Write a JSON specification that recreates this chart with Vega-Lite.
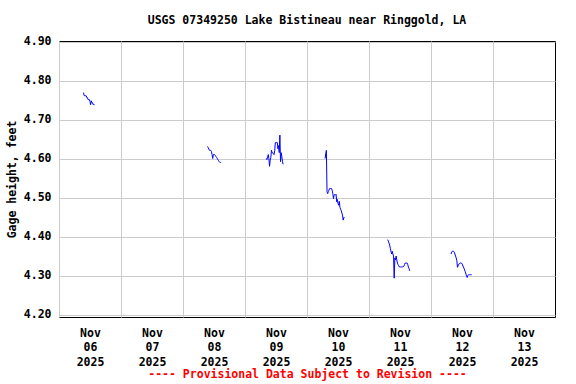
{
  "$schema": "https://vega.github.io/schema/vega-lite/v6.json",
  "width": 496,
  "height": 276,
  "autosize": "none",
  "padding": {"left": 59, "top": 41, "right": 21, "bottom": 67},
  "background": "white",
  "title": {
    "text": "USGS 07349250 Lake Bistineau near Ringgold, LA",
    "font": "DejaVu Sans Mono",
    "fontSize": 11.5,
    "fontWeight": "bold",
    "color": "black",
    "anchor": "middle",
    "offset": 9
  },
  "config": {
    "view": {"stroke": "black", "strokeWidth": 1},
    "axis": {
      "labelFont": "DejaVu Sans Mono",
      "labelFontSize": 11.5,
      "labelFontWeight": "bold",
      "labelColor": "black",
      "titleFont": "DejaVu Sans Mono",
      "titleFontSize": 11.5,
      "titleFontWeight": "bold",
      "titleColor": "black",
      "gridColor": "#cccccc",
      "gridOpacity": 1,
      "gridWidth": 1
    }
  },
  "data": {
    "values": [
      {"t": "2025-11-06T09:30", "v": 4.769, "s": "a"},
      {"t": "2025-11-06T09:45", "v": 4.761, "s": "a"},
      {"t": "2025-11-06T10:00", "v": 4.761, "s": "a"},
      {"t": "2025-11-06T10:15", "v": 4.761, "s": "a"},
      {"t": "2025-11-06T10:30", "v": 4.761, "s": "a"},
      {"t": "2025-11-06T10:45", "v": 4.756, "s": "a"},
      {"t": "2025-11-06T11:00", "v": 4.756, "s": "a"},
      {"t": "2025-11-06T11:15", "v": 4.751, "s": "a"},
      {"t": "2025-11-06T11:30", "v": 4.751, "s": "a"},
      {"t": "2025-11-06T11:45", "v": 4.751, "s": "a"},
      {"t": "2025-11-06T12:00", "v": 4.746, "s": "a"},
      {"t": "2025-11-06T12:15", "v": 4.738, "s": "a"},
      {"t": "2025-11-06T12:30", "v": 4.748, "s": "a"},
      {"t": "2025-11-06T12:45", "v": 4.743, "s": "a"},
      {"t": "2025-11-06T13:00", "v": 4.743, "s": "a"},
      {"t": "2025-11-06T13:15", "v": 4.738, "s": "a"},
      {"t": "2025-11-06T13:30", "v": 4.738, "s": "a"},
      {"t": "2025-11-06T13:45", "v": 4.738, "s": "a"},

      {"t": "2025-11-08T09:30", "v": 4.631, "s": "b"},
      {"t": "2025-11-08T09:45", "v": 4.628, "s": "b"},
      {"t": "2025-11-08T10:00", "v": 4.624, "s": "b"},
      {"t": "2025-11-08T10:15", "v": 4.621, "s": "b"},
      {"t": "2025-11-08T10:30", "v": 4.621, "s": "b"},
      {"t": "2025-11-08T10:45", "v": 4.621, "s": "b"},
      {"t": "2025-11-08T11:00", "v": 4.618, "s": "b"},
      {"t": "2025-11-08T11:15", "v": 4.610, "s": "b"},
      {"t": "2025-11-08T11:30", "v": 4.600, "s": "b"},
      {"t": "2025-11-08T11:45", "v": 4.610, "s": "b"},
      {"t": "2025-11-08T12:00", "v": 4.610, "s": "b"},
      {"t": "2025-11-08T12:15", "v": 4.610, "s": "b"},
      {"t": "2025-11-08T12:30", "v": 4.608, "s": "b"},
      {"t": "2025-11-08T12:45", "v": 4.605, "s": "b"},
      {"t": "2025-11-08T13:00", "v": 4.603, "s": "b"},
      {"t": "2025-11-08T13:15", "v": 4.600, "s": "b"},
      {"t": "2025-11-08T13:30", "v": 4.597, "s": "b"},
      {"t": "2025-11-08T13:45", "v": 4.595, "s": "b"},
      {"t": "2025-11-08T14:00", "v": 4.592, "s": "b"},
      {"t": "2025-11-08T14:15", "v": 4.590, "s": "b"},
      {"t": "2025-11-08T14:30", "v": 4.590, "s": "b"},
      {"t": "2025-11-08T14:45", "v": 4.590, "s": "b"},

      {"t": "2025-11-09T08:15", "v": 4.600, "s": "c"},
      {"t": "2025-11-09T08:30", "v": 4.597, "s": "c"},
      {"t": "2025-11-09T08:45", "v": 4.605, "s": "c"},
      {"t": "2025-11-09T09:00", "v": 4.610, "s": "c"},
      {"t": "2025-11-09T09:15", "v": 4.600, "s": "c"},
      {"t": "2025-11-09T09:30", "v": 4.580, "s": "c"},
      {"t": "2025-11-09T09:45", "v": 4.595, "s": "c"},
      {"t": "2025-11-09T10:00", "v": 4.603, "s": "c"},
      {"t": "2025-11-09T10:15", "v": 4.621, "s": "c"},
      {"t": "2025-11-09T10:30", "v": 4.615, "s": "c"},
      {"t": "2025-11-09T10:45", "v": 4.615, "s": "c"},
      {"t": "2025-11-09T11:00", "v": 4.612, "s": "c"},
      {"t": "2025-11-09T11:15", "v": 4.610, "s": "c"},
      {"t": "2025-11-09T11:30", "v": 4.620, "s": "c"},
      {"t": "2025-11-09T11:45", "v": 4.641, "s": "c"},
      {"t": "2025-11-09T12:00", "v": 4.641, "s": "c"},
      {"t": "2025-11-09T12:15", "v": 4.641, "s": "c"},
      {"t": "2025-11-09T12:30", "v": 4.641, "s": "c"},
      {"t": "2025-11-09T12:45", "v": 4.625, "s": "c"},
      {"t": "2025-11-09T13:00", "v": 4.633, "s": "c"},
      {"t": "2025-11-09T13:15", "v": 4.615, "s": "c"},
      {"t": "2025-11-09T13:30", "v": 4.660, "s": "c"},
      {"t": "2025-11-09T13:45", "v": 4.592, "s": "c"},
      {"t": "2025-11-09T14:00", "v": 4.615, "s": "c"},
      {"t": "2025-11-09T14:15", "v": 4.605, "s": "c"},
      {"t": "2025-11-09T14:30", "v": 4.593, "s": "c"},
      {"t": "2025-11-09T14:45", "v": 4.585, "s": "c"},

      {"t": "2025-11-10T07:00", "v": 4.600, "s": "d"},
      {"t": "2025-11-10T07:15", "v": 4.612, "s": "d"},
      {"t": "2025-11-10T07:30", "v": 4.621, "s": "d"},
      {"t": "2025-11-10T07:45", "v": 4.515, "s": "d"},
      {"t": "2025-11-10T08:00", "v": 4.510, "s": "d"},
      {"t": "2025-11-10T08:15", "v": 4.515, "s": "d"},
      {"t": "2025-11-10T08:30", "v": 4.519, "s": "d"},
      {"t": "2025-11-10T08:45", "v": 4.523, "s": "d"},
      {"t": "2025-11-10T09:00", "v": 4.523, "s": "d"},
      {"t": "2025-11-10T09:15", "v": 4.523, "s": "d"},
      {"t": "2025-11-10T09:30", "v": 4.523, "s": "d"},
      {"t": "2025-11-10T09:45", "v": 4.518, "s": "d"},
      {"t": "2025-11-10T10:00", "v": 4.510, "s": "d"},
      {"t": "2025-11-10T10:15", "v": 4.497, "s": "d"},
      {"t": "2025-11-10T10:30", "v": 4.506, "s": "d"},
      {"t": "2025-11-10T10:45", "v": 4.508, "s": "d"},
      {"t": "2025-11-10T11:00", "v": 4.506, "s": "d"},
      {"t": "2025-11-10T11:15", "v": 4.508, "s": "d"},
      {"t": "2025-11-10T11:30", "v": 4.489, "s": "d"},
      {"t": "2025-11-10T11:45", "v": 4.495, "s": "d"},
      {"t": "2025-11-10T12:00", "v": 4.485, "s": "d"},
      {"t": "2025-11-10T12:15", "v": 4.480, "s": "d"},
      {"t": "2025-11-10T12:30", "v": 4.490, "s": "d"},
      {"t": "2025-11-10T12:45", "v": 4.475, "s": "d"},
      {"t": "2025-11-10T13:00", "v": 4.470, "s": "d"},
      {"t": "2025-11-10T13:15", "v": 4.467, "s": "d"},
      {"t": "2025-11-10T13:30", "v": 4.460, "s": "d"},
      {"t": "2025-11-10T13:45", "v": 4.455, "s": "d"},
      {"t": "2025-11-10T14:00", "v": 4.442, "s": "d"},
      {"t": "2025-11-10T14:15", "v": 4.448, "s": "d"},
      {"t": "2025-11-10T14:30", "v": 4.450, "s": "d"},

      {"t": "2025-11-11T07:15", "v": 4.392, "s": "e"},
      {"t": "2025-11-11T07:30", "v": 4.388, "s": "e"},
      {"t": "2025-11-11T07:45", "v": 4.383, "s": "e"},
      {"t": "2025-11-11T08:00", "v": 4.378, "s": "e"},
      {"t": "2025-11-11T08:15", "v": 4.370, "s": "e"},
      {"t": "2025-11-11T08:30", "v": 4.362, "s": "e"},
      {"t": "2025-11-11T08:45", "v": 4.355, "s": "e"},
      {"t": "2025-11-11T09:00", "v": 4.362, "s": "e"},
      {"t": "2025-11-11T09:15", "v": 4.355, "s": "e"},
      {"t": "2025-11-11T09:30", "v": 4.350, "s": "e"},
      {"t": "2025-11-11T09:45", "v": 4.293, "s": "e"},
      {"t": "2025-11-11T10:00", "v": 4.345, "s": "e"},
      {"t": "2025-11-11T10:15", "v": 4.340, "s": "e"},
      {"t": "2025-11-11T10:30", "v": 4.350, "s": "e"},
      {"t": "2025-11-11T10:45", "v": 4.340, "s": "e"},
      {"t": "2025-11-11T11:00", "v": 4.332, "s": "e"},
      {"t": "2025-11-11T11:15", "v": 4.328, "s": "e"},
      {"t": "2025-11-11T11:30", "v": 4.325, "s": "e"},
      {"t": "2025-11-11T11:45", "v": 4.322, "s": "e"},
      {"t": "2025-11-11T12:00", "v": 4.322, "s": "e"},
      {"t": "2025-11-11T12:15", "v": 4.322, "s": "e"},
      {"t": "2025-11-11T12:30", "v": 4.322, "s": "e"},
      {"t": "2025-11-11T12:45", "v": 4.322, "s": "e"},
      {"t": "2025-11-11T13:00", "v": 4.322, "s": "e"},
      {"t": "2025-11-11T13:15", "v": 4.322, "s": "e"},
      {"t": "2025-11-11T13:30", "v": 4.324, "s": "e"},
      {"t": "2025-11-11T13:45", "v": 4.328, "s": "e"},
      {"t": "2025-11-11T14:00", "v": 4.332, "s": "e"},
      {"t": "2025-11-11T14:15", "v": 4.332, "s": "e"},
      {"t": "2025-11-11T14:30", "v": 4.332, "s": "e"},
      {"t": "2025-11-11T14:45", "v": 4.332, "s": "e"},
      {"t": "2025-11-11T15:00", "v": 4.328, "s": "e"},
      {"t": "2025-11-11T15:15", "v": 4.322, "s": "e"},
      {"t": "2025-11-11T15:30", "v": 4.318, "s": "e"},
      {"t": "2025-11-11T15:45", "v": 4.312, "s": "e"},

      {"t": "2025-11-12T07:45", "v": 4.355, "s": "f"},
      {"t": "2025-11-12T08:00", "v": 4.360, "s": "f"},
      {"t": "2025-11-12T08:15", "v": 4.362, "s": "f"},
      {"t": "2025-11-12T08:30", "v": 4.363, "s": "f"},
      {"t": "2025-11-12T08:45", "v": 4.362, "s": "f"},
      {"t": "2025-11-12T09:00", "v": 4.360, "s": "f"},
      {"t": "2025-11-12T09:15", "v": 4.355, "s": "f"},
      {"t": "2025-11-12T09:30", "v": 4.350, "s": "f"},
      {"t": "2025-11-12T09:45", "v": 4.345, "s": "f"},
      {"t": "2025-11-12T10:00", "v": 4.338, "s": "f"},
      {"t": "2025-11-12T10:15", "v": 4.321, "s": "f"},
      {"t": "2025-11-12T10:30", "v": 4.325, "s": "f"},
      {"t": "2025-11-12T10:45", "v": 4.329, "s": "f"},
      {"t": "2025-11-12T11:00", "v": 4.330, "s": "f"},
      {"t": "2025-11-12T11:15", "v": 4.332, "s": "f"},
      {"t": "2025-11-12T11:30", "v": 4.332, "s": "f"},
      {"t": "2025-11-12T11:45", "v": 4.332, "s": "f"},
      {"t": "2025-11-12T12:00", "v": 4.330, "s": "f"},
      {"t": "2025-11-12T12:15", "v": 4.327, "s": "f"},
      {"t": "2025-11-12T12:30", "v": 4.322, "s": "f"},
      {"t": "2025-11-12T12:45", "v": 4.319, "s": "f"},
      {"t": "2025-11-12T13:00", "v": 4.314, "s": "f"},
      {"t": "2025-11-12T13:15", "v": 4.310, "s": "f"},
      {"t": "2025-11-12T13:30", "v": 4.304, "s": "f"},
      {"t": "2025-11-12T13:45", "v": 4.299, "s": "f"},
      {"t": "2025-11-12T14:00", "v": 4.295, "s": "f"},
      {"t": "2025-11-12T14:15", "v": 4.300, "s": "f"},
      {"t": "2025-11-12T14:30", "v": 4.302, "s": "f"},
      {"t": "2025-11-12T14:45", "v": 4.302, "s": "f"},
      {"t": "2025-11-12T15:00", "v": 4.302, "s": "f"},
      {"t": "2025-11-12T15:15", "v": 4.302, "s": "f"},
      {"t": "2025-11-12T15:30", "v": 4.302, "s": "f"},
      {"t": "2025-11-12T15:45", "v": 4.302, "s": "f"}
    ]
  },
  "mark": {"type": "line", "color": "#0000ff", "strokeWidth": 1, "clip": true},
  "encoding": {
    "x": {
      "field": "t",
      "type": "temporal",
      "scale": {
        "domain": [
          {"year": 2025, "month": "nov", "date": 6, "hours": 0},
          {"year": 2025, "month": "nov", "date": 14, "hours": 0}
        ]
      },
      "axis": {
        "title": "---- Provisional Data Subject to Revision ----",
        "titleColor": "#ff0000",
        "titlePadding": 1,
        "values": [
          {"year": 2025, "month": "nov", "date": 6},
          {"year": 2025, "month": "nov", "date": 7},
          {"year": 2025, "month": "nov", "date": 8},
          {"year": 2025, "month": "nov", "date": 9},
          {"year": 2025, "month": "nov", "date": 10},
          {"year": 2025, "month": "nov", "date": 11},
          {"year": 2025, "month": "nov", "date": 12},
          {"year": 2025, "month": "nov", "date": 13}
        ],
        "labelExpr": "[timeFormat(datum.value, '%b'), timeFormat(datum.value, '%d'), timeFormat(datum.value, '%Y')]",
        "labelOffset": 31,
        "labelAlign": "center",
        "labelBaseline": "top",
        "labelLineHeight": 14.5,
        "labelPadding": 10,
        "labelOverlap": false,
        "labelFlush": false,
        "labelBound": false,
        "ticks": false,
        "tickSize": 0,
        "domain": false,
        "grid": true
      }
    },
    "y": {
      "field": "v",
      "type": "quantitative",
      "scale": {"domain": [4.1936, 4.9013], "nice": false, "zero": false},
      "axis": {
        "title": "Gage height, feet",
        "titlePadding": 6,
        "values": [4.2, 4.3, 4.4, 4.5, 4.6, 4.7, 4.8, 4.9],
        "format": ".2f",
        "ticks": false,
        "tickSize": 0,
        "labelPadding": 8,
        "domain": false,
        "grid": true
      }
    },
    "detail": {"field": "s", "type": "nominal"}
  }
}
